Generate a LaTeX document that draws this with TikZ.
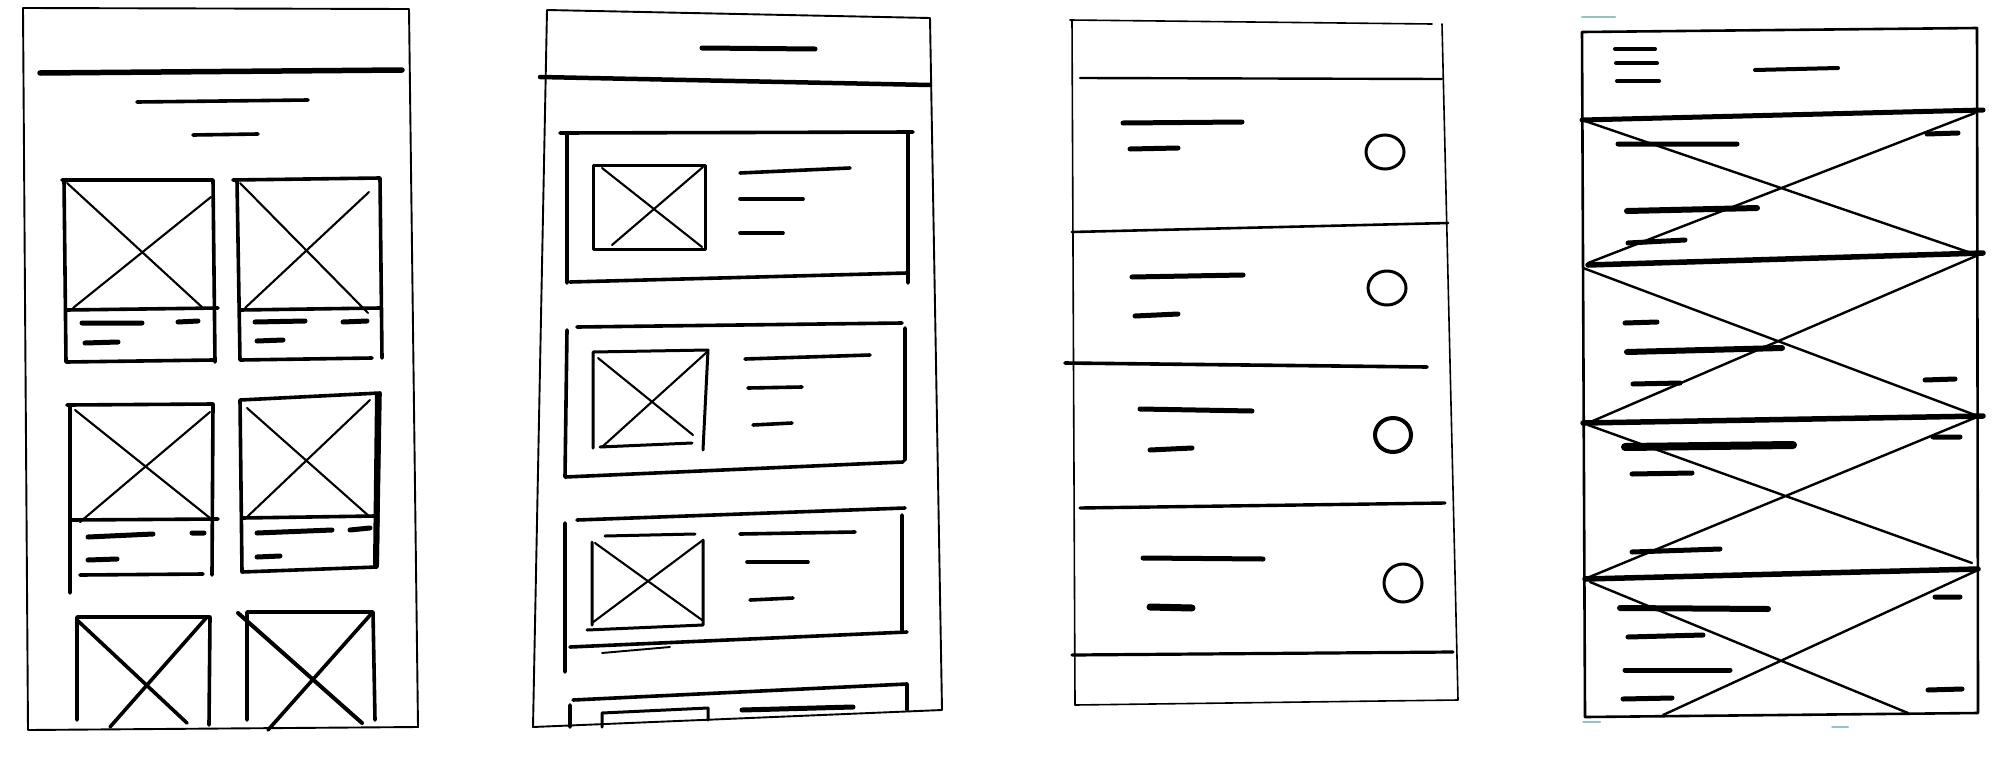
\documentclass[tikz,border=0pt]{standalone}
\begin{document}
\begin{tikzpicture}[x=1pt,y=-1pt,
  frame/.style={line width=1.9pt, line join=round, line cap=round},
  card/.style={line width=3.6pt, line join=round, line cap=round},
  heavy/.style={line width=4.5pt, line cap=round},
  cross/.style={line width=2.1pt, line cap=round},
  bar/.style={line width=5pt, line cap=round},
  thinbar/.style={line width=3.6pt, line cap=round},
  ring/.style={line width=3pt},
  tick/.style={line width=2pt, draw=teal!45, line cap=round}]
\useasboundingbox[fill=white] (0,0) rectangle (2002,766);

% ================= Panel 1 : grid =================
\draw[frame] (23,8) -- (409,9) -- (418,727) -- (28,730) -- cycle;
\draw[heavy,line width=5.5pt] (40,73) -- (402,70);
\draw[thinbar] (137,102) -- (308,100);
\draw[thinbar] (193,135) -- (258,134);
% row 1 left
\draw[card] (62,180) -- (213,180) -- (215,362) (64,180) -- (66,362) -- (213,360);
\draw[card] (66,310) -- (218,308);
\draw[cross] (67,183) -- (203,308) (211,197) -- (73,308);
\draw[bar] (82,323) -- (142,323) (178,322) -- (198,321);
\draw[bar] (85,343) -- (118,342);
% row 1 right
\draw[card] (233,180) -- (380,178) -- (382,358) (237,180) -- (240,360) -- (372,358);
\draw[card] (240,310) -- (380,308);
\draw[cross] (240,183) -- (368,313) (369,192) -- (245,308);
\draw[bar] (255,322) -- (305,321) (343,322) -- (367,321);
\draw[bar] (257,341) -- (283,340);
% row 2 left
\draw[card] (67,405) -- (213,404) -- (212,575) (70,405) -- (70,593);
\draw[card] (70,520) -- (218,519);
\draw[card] (80,575) -- (203,574);
\draw[cross] (75,410) -- (210,518) (210,412) -- (80,522);
\draw[bar] (88,537) -- (153,534) (192,533) -- (204,533);
\draw[bar] (88,560) -- (117,559);
% row 2 right
\draw[card] (240,400) -- (380,393) -- (377,567) -- (242,572) -- (240,400);
\draw[heavy,line width=6pt] (378,395) -- (376,565);
\draw[card] (242,518) -- (375,516);
\draw[cross] (247,408) -- (370,517) (370,400) -- (247,517);
\draw[bar] (257,533) -- (332,530) (350,530) -- (370,528);
\draw[bar] (257,557) -- (280,556);
% row 3 left
\draw[card] (77,720) -- (77,617) -- (210,617) -- (209,725);
\draw[card] (77,620) -- (187,723) (207,617) -- (110,727);
% row 3 right
\draw[card] (247,720) -- (247,612) -- (373,612) -- (375,720);
\draw[card,line width=4pt] (238,613) -- (362,723);
\draw[card] (372,613) -- (268,730);

% ================= Panel 2 : list of cards =================
\draw[frame] (547,10) -- (930,18) -- (942,710) -- (533,727) -- cycle;
\draw[bar] (702,48) -- (815,49);
\draw[heavy] (540,77) -- (930,85);
% card 1
\draw[card] (560,133) -- (913,132) (908,133) -- (908,283) (567,133) -- (567,283) (570,282) -- (907,273);
\draw[card,line width=3pt] (593,165) -- (705,165) -- (705,249) -- (593,249) -- cycle;
\draw[cross] (602,168) -- (702,247) (703,167) -- (612,245);
\draw[thinbar] (740,173) -- (850,168);
\draw[thinbar] (740,199) -- (803,199);
\draw[thinbar] (740,233) -- (783,233);
% card 2
\draw[card] (577,327) -- (902,323) (905,328) -- (905,460) (567,330) -- (565,477) (565,477) -- (903,462);
\draw[card,line width=3pt] (593,352) -- (708,350) -- (703,450) (593,352) -- (593,448) (600,447) -- (692,443);
\draw[cross] (598,358) -- (693,435) (707,352) -- (602,447);
\draw[thinbar] (745,359) -- (870,355);
\draw[thinbar] (748,388) -- (802,387);
\draw[thinbar] (753,425) -- (792,423);
% card 3
\draw[card] (577,520) -- (905,508) (902,515) -- (902,630) (565,523) -- (565,672) (570,647) -- (907,632);
\draw[frame] (602,653) -- (670,647);
\draw[card,line width=3pt] (605,536) -- (695,534) (592,542) -- (592,625) (703,540) -- (703,625) (587,630) -- (703,625);
\draw[cross] (595,543) -- (702,620) (703,540) -- (592,623);
\draw[thinbar] (740,534) -- (855,532);
\draw[thinbar] (747,562) -- (808,562);
\draw[thinbar] (750,600) -- (793,598);
% card 4 (partial)
\draw[card] (573,700) -- (907,684) -- (907,710) (570,705) -- (570,727);
\draw[card,line width=3pt] (602,727) -- (602,713) -- (708,708) -- (708,720);
\draw[bar] (742,710) -- (853,707);

% ================= Panel 3 : list with radio buttons =================
\draw[frame,line width=1.6pt] (1070,20) -- (1432,24) (1442,24) -- (1458,700) -- (1075,705) -- (1072,20);
\draw[frame,line width=2.4pt] (1080,78) -- (1442,79);
\draw[bar] (1123,123) -- (1242,122);
\draw[bar] (1130,149) -- (1178,148);
\draw[ring] (1385,152) ellipse [x radius=19pt, y radius=17pt];
\draw[frame,line width=2.6pt] (1072,232) -- (1448,223);
\draw[bar] (1132,277) -- (1243,275);
\draw[bar] (1135,316) -- (1178,314);
\draw[ring] (1387,288) ellipse [x radius=19pt, y radius=17pt];
\draw[heavy,line width=3.6pt] (1065,363) -- (1427,367);
\draw[bar] (1140,409) -- (1252,411);
\draw[bar] (1150,450) -- (1192,448);
\draw[ring,line width=4pt] (1393,435) ellipse [x radius=18pt, y radius=17pt];
\draw[heavy,line width=3.4pt] (1080,508) -- (1445,503);
\draw[bar] (1143,558) -- (1263,559);
\draw[bar,line width=7pt] (1150,607) -- (1192,608);
\draw[ring] (1403,583) ellipse [x radius=19pt, y radius=19pt];
\draw[heavy,line width=3.2pt] (1072,655) -- (1453,652);

% ================= Panel 4 : full-width image sections =================
\draw[tick] (1582,17) -- (1615,17);
\draw[tick] (1583,722) -- (1600,722) (1832,727) -- (1848,727);
\draw[frame,line width=2.6pt] (1582,32) -- (1977,28) -- (1978,713) -- (1585,717) -- cycle;
\draw[bar,line width=4pt] (1615,49) -- (1655,49);
\draw[bar,line width=4pt] (1616,63) -- (1657,63);
\draw[bar,line width=4pt] (1617,81) -- (1659,81);
\draw[bar,line width=4pt] (1755,70) -- (1838,68);
% section 1
\draw[heavy,line width=5pt] (1582,120) -- (1983,110);
\draw[cross,line width=2.4pt] (1582,120) -- (1977,255) (1975,113) -- (1588,263);
\draw[bar] (1618,144) -- (1737,144) (1927,134) -- (1958,133);
\draw[bar,line width=6pt] (1627,211) -- (1757,208);
\draw[bar] (1628,243) -- (1685,240);
% section 2
\draw[heavy,line width=5.5pt] (1588,265) -- (1983,253);
\draw[cross,line width=2.4pt] (1583,268) -- (1975,415) (1983,253) -- (1588,423);
\draw[bar] (1625,323) -- (1657,322);
\draw[bar,line width=6pt] (1627,352) -- (1782,348);
\draw[bar] (1633,384) -- (1680,383) (1925,380) -- (1955,379);
% section 3
\draw[heavy,line width=5.5pt] (1583,423) -- (1983,416);
\draw[cross,line width=2.4pt] (1588,425) -- (1972,563) (1977,417) -- (1587,578);
\draw[bar,line width=8pt] (1625,447) -- (1793,445);
\draw[bar] (1632,474) -- (1692,473) (1933,437) -- (1960,437);
\draw[bar] (1632,552) -- (1720,549);
% section 4
\draw[heavy,line width=5.5pt] (1585,579) -- (1978,569);
\draw[cross,line width=2.4pt] (1590,582) -- (1908,713) (1978,570) -- (1663,715);
\draw[bar,line width=6pt] (1620,608) -- (1768,609);
\draw[bar] (1628,637) -- (1703,635) (1935,597) -- (1960,597);
\draw[bar] (1625,670) -- (1730,670);
\draw[bar] (1623,699) -- (1672,698) (1928,690) -- (1962,689);
\end{tikzpicture}
\end{document}
